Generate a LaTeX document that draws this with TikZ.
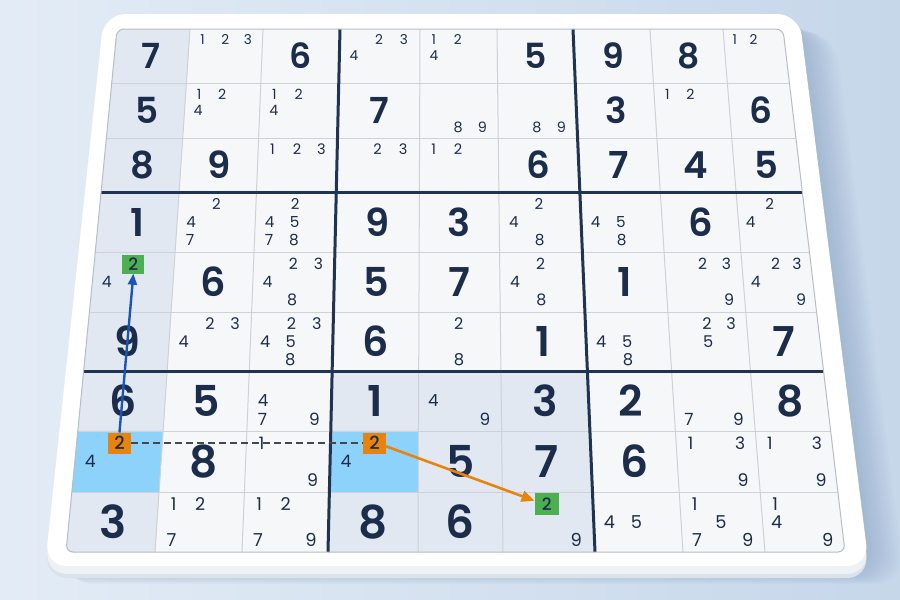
\documentclass[tikz,border=0pt]{standalone}
\usepackage{fontspec}
\setmainfont{Poppins}
\IfFontExistsTF{Poppins SemiBold}{\newfontfamily\digf{Poppins SemiBold}}{\newfontfamily\digf{Poppins}[FakeBold=1.6]}
\IfFontExistsTF{Poppins Medium}{\newfontfamily\boxf{Poppins Medium}}{\newfontfamily\boxf{Poppins}[FakeBold=1.2]}
\usetikzlibrary{arrows.meta}
\definecolor{cink}{HTML}{1B2D4B}
\definecolor{cbgA}{HTML}{E3ECF6}
\definecolor{cbgB}{HTML}{C6D7EA}
\definecolor{cwhite}{HTML}{F6F7F9}
\definecolor{cshade}{HTML}{E1E8F1}
\definecolor{chigh}{HTML}{8DD2FA}
\definecolor{cgrid}{HTML}{CDD2D9}
\definecolor{cthick}{HTML}{1F3352}
\definecolor{corng}{HTML}{E8830E}
\definecolor{cgrn}{HTML}{4CAF50}
\definecolor{cblu}{HTML}{1A55B5}
\definecolor{cdsh}{HTML}{43484E}
\definecolor{cshad}{HTML}{6F8DB2}
\definecolor{cside}{HTML}{DCE2EA}
\definecolor{csideb}{HTML}{EEF1F5}
\def\Ys{{29,83,138,192,252,312,371,431,492,552}}
\def\Xt{{117,190,263,340,420,497,573,650,723,783}}
\def\Xb{{66,155,242,328,418,503,595,683,765,845}}
\newcommand\GP[3]{%
 \pgfmathtruncatemacro\Zi{min(floor(#2),8)}%
 \pgfmathtruncatemacro\Zk{\Zi+1}%
 \pgfmathsetmacro\Zy{\Ys[\Zi]+((#2)-\Zi)*(\Ys[\Zk]-\Ys[\Zi])}%
 \pgfmathsetmacro\Zt{(\Zy-29)/523}%
 \pgfmathtruncatemacro\Zj{min(floor(#1),8)}%
 \pgfmathtruncatemacro\Zl{\Zj+1}%
 \pgfmathsetmacro\Zxa{\Xt[\Zj]+\Zt*(\Xb[\Zj]-\Xt[\Zj])}%
 \pgfmathsetmacro\Zxb{\Xt[\Zl]+\Zt*(\Xb[\Zl]-\Xt[\Zl])}%
 \pgfmathsetmacro\Zx{\Zxa+((#1)-\Zj)*(\Zxb-\Zxa)}%
 \coordinate (#3) at (\Zx,\Zy);}
\newcommand\Dg[3]{%
 \GP{#1-0.5}{#2-0.5}{p}%
 \pgfmathsetmacro\Zf{34+12*\Zt}%
 \node[bigdig, font=\digf\fontsize{\Zf}{\Zf}\selectfont] (D#2-#1) at (p) {#3};}
\newcommand\Cd[3]{%
 \foreach \q in {#3}{%
  \pgfmathtruncatemacro\Zc{mod(\q-1,3)}%
  \pgfmathtruncatemacro\Zr{floor((\q-1)/3)}%
  \pgfmathsetmacro\Zu{#1-1+0.18+0.31*\Zc}%
  \pgfmathsetmacro\Zv{#2-1+0.2+0.3*\Zr}%
  \GP{\Zu}{\Zv}{p}%
  \pgfmathsetmacro\Zf{13.5+4.5*\Zt}%
  \node[cand, font=\fontsize{\Zf}{\Zf}\selectfont] (C#2-#1-\q) at (p) {\q};}}
\newcommand\Sh[3]{%
 \GP{#1-1}{#2-1}{qa}\GP{#1}{#2-1}{qb}\GP{#1}{#2}{qc}\GP{#1-1}{#2}{qd}%
 \filldraw[fill=#3, draw=#3, line width=0.4pt] (qa)--(qb)--(qc)--(qd)--cycle;}
\tikzset{
 bigdig/.style={text=cink, inner sep=0pt, anchor=center},
 cand/.style={text=cink, inner sep=0pt, anchor=center},
 obox/.style={fill=corng, text=cink, inner sep=0pt, minimum width=23pt, minimum height=21pt, font=\boxf\fontsize{18}{18}\selectfont},
 gbox/.style={fill=cgrn, text=cink, inner sep=0pt, minimum width=23pt, minimum height=20pt, font=\boxf\fontsize{17}{17}\selectfont},
 thinl/.style={draw=cgrid, line width=1pt},
 thickl/.style={draw=cthick, line width=3pt},
}
\begin{document}
\begin{tikzpicture}[x=1pt,y=-1pt]
\useasboundingbox (0,0) rectangle (900,600);
\shade[left color=cbgA, right color=cbgB] (0,0) rectangle (900,600);
% shadow
\foreach \i in {0,...,12}{
 \fill[fill=cshad, opacity=0.035, rounded corners=30pt] (104+\i*1.5,20+\i) -- (799+\i*3,20+\i) -- (869+\i*3,572+\i) -- (45+\i*1.5,572+\i) -- cycle;}
% frame
\fill[fill=cside, rounded corners=22pt] (104,26) -- (799,26) -- (869,578) -- (45,578) -- cycle;
\fill[fill=csideb, rounded corners=22pt] (104,21) -- (799,21) -- (869,574) -- (45,574) -- cycle;
\fill[fill=white, rounded corners=22pt] (104,14) -- (799,14) -- (869,566) -- (45,566) -- cycle;
% grid
\GP{0}{0}{G00}\GP{9}{0}{G90}\GP{9}{9}{G99}\GP{0}{9}{G09}
\begin{scope}
\clip[rounded corners=7pt] (G00)--(G90)--(G99)--(G09)--cycle;
\fill[fill=cwhite] (G00)--(G90)--(G99)--(G09)--cycle;
\foreach \r in {1,2,3,4,5,6,7,9}{\Sh{1}{\r}{cshade}}
\Sh{4}{7}{cshade}\Sh{5}{7}{cshade}\Sh{6}{7}{cshade}
\Sh{5}{8}{cshade}\Sh{6}{8}{cshade}
\Sh{4}{9}{cshade}\Sh{5}{9}{cshade}\Sh{6}{9}{cshade}
\Sh{1}{8}{chigh}\Sh{4}{8}{chigh}
\foreach \i in {1,2,4,5,7,8}{
 \GP{\i}{0}{ta}\GP{\i}{9}{tb}\draw[thinl] (ta)--(tb);
 \GP{0}{\i}{la}\GP{9}{\i}{lb}\draw[thinl] (la)--(lb);}
\end{scope}
\foreach \i in {3,6}{
 \GP{\i}{0}{ta}\GP{\i}{9}{tb}\draw[thickl] (ta)--(tb);
 \GP{0}{\i}{la}\GP{9}{\i}{lb}\draw[thickl] (la)--(lb);}
\draw[draw=cgrid!90!black, line width=1pt, rounded corners=7pt] (G00)--(G90)--(G99)--(G09)--cycle;
% row 1
\Dg{1}{1}{7} \Cd{2}{1}{1,2,3} \Dg{3}{1}{6} \Cd{4}{1}{2,3,4} \Cd{5}{1}{1,2,4} \Dg{6}{1}{5} \Dg{7}{1}{9} \Dg{8}{1}{8} \Cd{9}{1}{1,2}
% row 2
\Dg{1}{2}{5} \Cd{2}{2}{1,2,4} \Cd{3}{2}{1,2,4} \Dg{4}{2}{7} \Cd{5}{2}{8,9} \Cd{6}{2}{8,9} \Dg{7}{2}{3} \Cd{8}{2}{1,2} \Dg{9}{2}{6}
% row 3
\Dg{1}{3}{8} \Dg{2}{3}{9} \Cd{3}{3}{1,2,3} \Cd{4}{3}{2,3} \Cd{5}{3}{1,2} \Dg{6}{3}{6} \Dg{7}{3}{7} \Dg{8}{3}{4} \Dg{9}{3}{5}
% row 4
\Dg{1}{4}{1} \Cd{2}{4}{2,4,7} \Cd{3}{4}{2,4,5,7,8} \Dg{4}{4}{9} \Dg{5}{4}{3} \Cd{6}{4}{2,4,8} \Cd{7}{4}{4,5,8} \Dg{8}{4}{6} \Cd{9}{4}{2,4}
% row 5
\Cd{1}{5}{4} \Dg{2}{5}{6} \Cd{3}{5}{2,3,4,8} \Dg{4}{5}{5} \Dg{5}{5}{7} \Cd{6}{5}{2,4,8} \Dg{7}{5}{1} \Cd{8}{5}{2,3,9} \Cd{9}{5}{2,3,4,9}
% row 6
\Dg{1}{6}{9} \Cd{2}{6}{2,3,4} \Cd{3}{6}{2,3,4,5,8} \Dg{4}{6}{6} \Cd{5}{6}{2,8} \Dg{6}{6}{1} \Cd{7}{6}{4,5,8} \Cd{8}{6}{2,3,5} \Dg{9}{6}{7}
% row 7
\Dg{1}{7}{6} \Dg{2}{7}{5} \Cd{3}{7}{4,7,9} \Dg{4}{7}{1} \Cd{5}{7}{4,9} \Dg{6}{7}{3} \Dg{7}{7}{2} \Cd{8}{7}{7,9} \Dg{9}{7}{8}
% row 8
\Cd{1}{8}{4} \Dg{2}{8}{8} \Cd{3}{8}{1,9} \Cd{4}{8}{4} \Dg{5}{8}{5} \Dg{6}{8}{7} \Dg{7}{8}{6} \Cd{8}{8}{1,3,9} \Cd{9}{8}{1,3,9}
% row 9
\Dg{1}{9}{3} \Cd{2}{9}{1,2,7} \Cd{3}{9}{1,2,7,9} \Dg{4}{9}{8} \Dg{5}{9}{6} \Cd{6}{9}{9} \Cd{7}{9}{4,5} \Cd{8}{9}{1,5,7,9} \Cd{9}{9}{1,4,9}
% highlighted candidates
\GP{0.49}{4.2}{pg1}\node[gbox, minimum width=22pt, minimum height=19pt] (g1) at (pg1) {2};
\GP{5.49}{8.2}{pg2}\node[gbox, minimum width=24pt, minimum height=22pt] (g2) at (pg2) {2};
\GP{0.5}{7.2}{po1}\node[obox] (o1) at (po1) {2};
\GP{3.5}{7.2}{po2}\node[obox] (o2) at (po2) {2};
% connectors
\draw[draw=cdsh, line width=2.2pt, dash pattern=on 7pt off 4pt] (o1.east) -- (o2.west);
\draw[draw=cblu, fill=cblu, line width=2.4pt, -{Triangle[length=11pt,width=9pt]}] (o1.north) -- (g1.south);
\draw[draw=corng, fill=corng, line width=2.6pt, -{Triangle[length=13pt,width=11pt]}] (o2.-15) -- (g2.165);
\end{tikzpicture}
\end{document}
